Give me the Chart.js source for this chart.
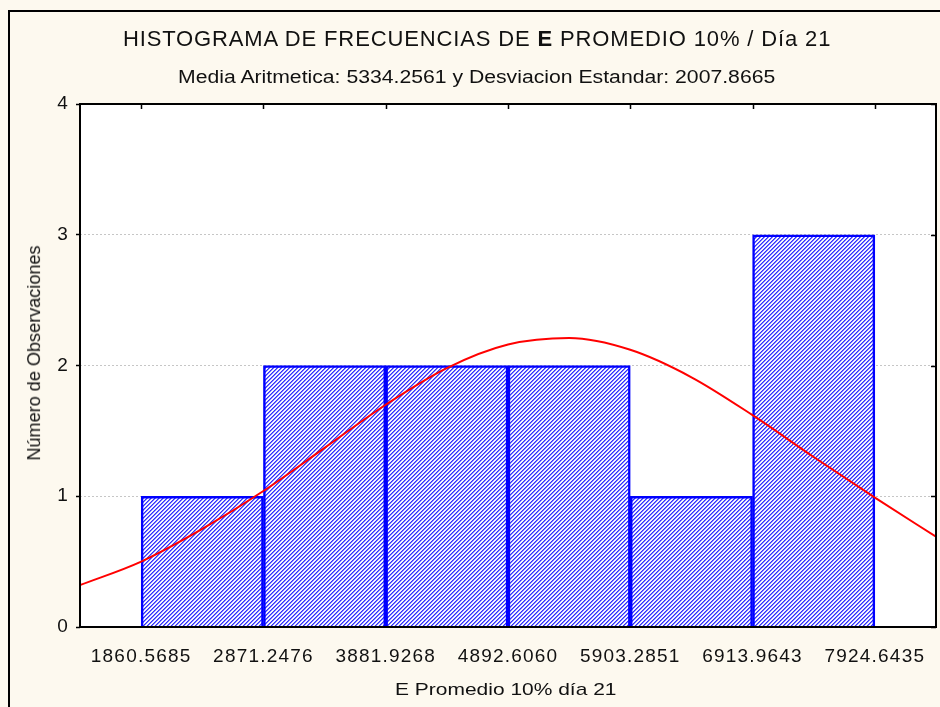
<!DOCTYPE html>
<html><head><meta charset="utf-8">
<script src="https://cdn.jsdelivr.net/npm/chart.js@4.4.1/dist/chart.umd.min.js"></script>
<style>
html,body{margin:0;padding:0;background:#fdf9ef;width:940px;height:707px;overflow:hidden;position:relative;font-family:'Liberation Sans',Arial,sans-serif;color:#111;}
#frame{position:absolute;left:8px;top:10px;width:1000px;height:800px;border-left:2px solid #000;border-top:2px solid #000;box-sizing:border-box;}
canvas{position:absolute;left:0;top:0;}
.txt{position:absolute;white-space:nowrap;line-height:1;left:0;top:0;transform-origin:center center;}
</style></head><body>
<div id="frame"></div>
<canvas id="c" width="940" height="707"></canvas>
<div class="txt" id="title" style="font-size:22px">HISTOGRAMA DE FRECUENCIAS DE <b>E</b> PROMEDIO 10% / Día 21</div>
<div class="txt" id="subtitle" style="font-size:17.5px">Media Aritmetica: 5334.2561 y Desviacion Estandar: 2007.8665</div>
<div class="txt" id="xtitle" style="font-size:17px">E Promedio 10% día 21</div>
<div class="txt" id="ytitle" style="font-size:18px">Número de Observaciones</div>
<script>
// ---- data ----
const binEdges = [1860.5685, 2871.2476, 3881.9268, 4892.6060, 5903.2851, 6913.9643, 7924.6435];
const xTickLabels = ['1860.5685','2871.2476','3881.9268','4892.6060','5903.2851','6913.9643','7924.6435'];
const counts = [1, 2, 2, 2, 1, 3];
const yTickValues = [0, 1, 2, 3, 4];
const curveX = [1355, 1861, 2366, 2871, 3377, 3882, 4387, 4893, 5398, 5903, 6409, 6914, 7419, 7925, 8430];
const curveY = [0.32, 0.50, 0.75, 1.04, 1.37, 1.70, 1.98, 2.16, 2.21, 2.12, 1.91, 1.62, 1.30, 0.99, 0.69];
const xMin = 1355.23, xMax = 8429.98;
const yMin = 0, yMax = 4;

// ---- text placement ----
function placeSpaced(id, cx, cy, w){
  const el = document.getElementById(id);
  const n = el.textContent.length;
  const ls = (w - el.offsetWidth) / Math.max(1, n - 1);
  el.style.letterSpacing = ls + 'px';
  const nw = el.offsetWidth - ls, nh = el.offsetHeight;
  el.style.left = (cx - nw/2) + 'px';
  el.style.top = (cy - nh/2) + 'px';
}
function placeScaled(id, cx, cy, w, rot){
  const el = document.getElementById(id);
  const nw = el.offsetWidth, nh = el.offsetHeight;
  el.style.left = (cx - nw/2) + 'px';
  el.style.top = (cy - nh/2) + 'px';
  el.style.transform = (rot ? 'rotate(-90deg) ' : '') + 'scaleX(' + (w / nw) + ')';
}
placeSpaced('title', 476.5, 39.1, 707);
placeScaled('subtitle', 476.5, 78.1, 597, false);
placeScaled('xtitle', 506, 689.1, 222, false);
placeScaled('ytitle', 33.5, 352.5, 215, true);

// ---- chart ----
const canvas = document.getElementById('c');
const ctx = canvas.getContext('2d');

function hatch(){
  const p = document.createElement('canvas'); p.width = 4; p.height = 4;
  const g = p.getContext('2d');
  const cols = ['#3030ff', '#7c7cff', '#ffffff', '#e6e6ff'];
  for (let y = 0; y < 4; y++) for (let x = 0; x < 4; x++) {
    g.fillStyle = cols[(x + y) % 4];
    g.fillRect(x, y, 1, 1);
  }
  return ctx.createPattern(p, 'repeat');
}

const barData = counts.map((c, i) => ({x: (binEdges[i] + binEdges[i+1]) / 2, y: c}));
const lineData = curveX.map((x, i) => ({x: x, y: curveY[i]}));

const framePlugin = {
  id: 'framePlugin',
  beforeDraw(chart){
    const a = chart.chartArea, c = chart.ctx;
    c.save(); c.fillStyle = '#ffffff'; c.fillRect(a.left, a.top, a.right - a.left, a.bottom - a.top); c.restore();
    c.letterSpacing = '1.2px';
  },
  afterDraw(chart){
    const a = chart.chartArea, c = chart.ctx;
    c.letterSpacing = '0px';
    c.save();
    c.strokeStyle = '#000'; c.lineWidth = 2;
    c.strokeRect(a.left, a.top, a.right - a.left, a.bottom - a.top);
    c.lineWidth = 1.5;
    const xs = chart.scales.x, ys = chart.scales.y;
    c.beginPath();
    binEdges.forEach(v => { const px = Math.round(xs.getPixelForValue(v)) + 0.5; c.moveTo(px, a.top); c.lineTo(px, a.top + 5); });
    yTickValues.forEach(v => { const py = Math.round(ys.getPixelForValue(v)) + 0.5; c.moveTo(a.right, py); c.lineTo(a.right - 5, py); });
    c.stroke();
    c.restore();
  }
};

new Chart(canvas, {
  type: 'bar',
  data: {
    datasets: [
      {
        type: 'line', data: lineData, borderColor: '#ff0000', borderWidth: 2,
        pointRadius: 0, cubicInterpolationMode: 'monotone', fill: false, order: 0
      },
      {
        type: 'bar', data: barData, backgroundColor: hatch(), borderColor: '#0000ff',
        borderWidth: 2.5, borderSkipped: 'start', barPercentage: 1, categoryPercentage: 1, order: 1
      }
    ]
  },
  options: {
    responsive: false, animation: false, devicePixelRatio: 1,
    layout: { padding: { top: 104, right: 4, left: 0, bottom: 0 } },
    plugins: { legend: { display: false }, tooltip: { enabled: false }, title: { display: false } },
    scales: {
      x: {
        type: 'linear', min: xMin, max: xMax, offset: false,
        grid: { display: false },
        border: { display: false },
        afterBuildTicks(s){ s.ticks = binEdges.map(v => ({ value: v })); },
        afterFit(s){ s.height = 80; },
        ticks: {
          autoSkip: false, maxRotation: 0, minRotation: 0, padding: 10,
          color: '#111', font: { family: 'Liberation Sans', size: 19 },
          callback: (v, i) => xTickLabels[i]
        }
      },
      y: {
        type: 'linear', min: yMin, max: yMax,
        afterBuildTicks(s){ s.ticks = yTickValues.map(v => ({ value: v })); },
        afterFit(s){ s.width = 80; },
        grid: {
          display: true, color: '#c6c6c6', lineWidth: 1, drawTicks: true,
          tickLength: 4, tickColor: '#000', tickWidth: 1.5, tickBorderDash: []
        },
        border: { display: false, dash: [2, 2] },
        ticks: {
          padding: 7, color: '#111', font: { family: 'Liberation Sans', size: 19 },
          callback: v => String(v)
        }
      }
    }
  },
  plugins: [framePlugin]
});
</script>
</body></html>
